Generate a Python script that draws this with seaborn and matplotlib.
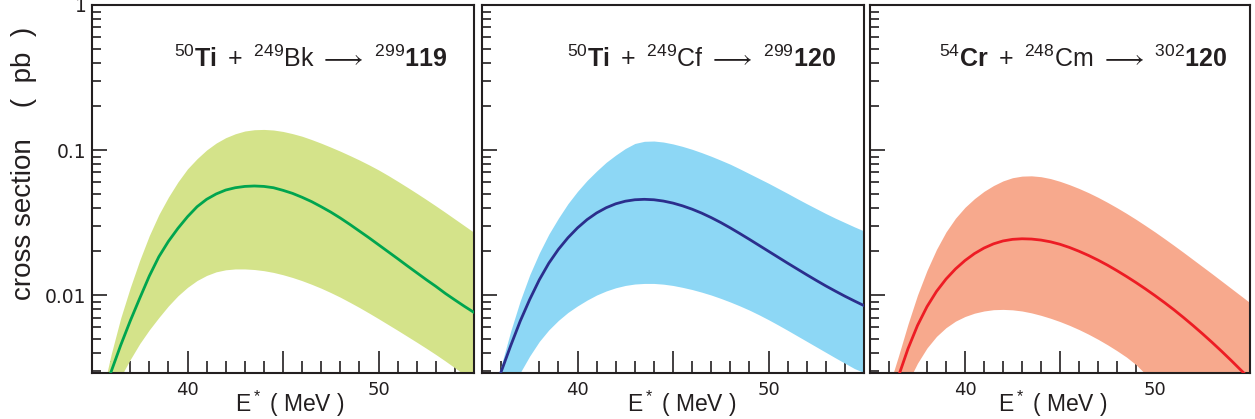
import numpy as np
import pandas as pd
import seaborn as sns
import matplotlib
matplotlib.use("Agg")
import matplotlib.pyplot as plt
from matplotlib.ticker import FixedLocator, FixedFormatter, LogLocator, NullFormatter

# ---------------- data ----------------
# excitation energy grid (MeV)
energy = [35.0, 35.5, 36.0, 36.5, 37.0, 37.5, 38.0, 38.5, 39.0, 39.5,
          40.0, 40.5, 41.0, 41.5, 42.0, 42.5, 43.0, 43.5, 44.0, 44.5,
          45.0, 45.5, 46.0, 46.5, 47.0, 47.5, 48.0, 48.5, 49.0, 49.5,
          50.0, 50.5, 51.0, 51.5, 52.0, 52.5, 53.0, 53.5, 54.0, 54.5, 55.0]

# cross sections, given as log10(sigma / pb)
# 50Ti + 249Bk -> 299 119
bk_mid_log10 = [-2.85, -2.68, -2.529, -2.347, -2.179, -2.022, -1.869, -1.736, -1.630, -1.540,
                -1.460, -1.391, -1.340, -1.303, -1.276, -1.260, -1.251, -1.248, -1.251, -1.260,
                -1.278, -1.299, -1.326, -1.356, -1.391, -1.428, -1.469, -1.513, -1.559, -1.605,
                -1.653, -1.701, -1.749, -1.798, -1.846, -1.894, -1.940, -1.989, -2.034, -2.078,
                -2.120]
bk_hi_log10 = [-3.0, -2.70, -2.41, -2.16, -1.95, -1.76, -1.59, -1.445, -1.325, -1.22,
               -1.13, -1.06, -1.00, -0.952, -0.915, -0.888, -0.869, -0.860, -0.858, -0.862,
               -0.872, -0.887, -0.905, -0.928, -0.953, -0.980, -1.008, -1.038, -1.069, -1.102,
               -1.137, -1.175, -1.215, -1.256, -1.298, -1.341, -1.385, -1.430, -1.476, -1.522,
               -1.568]
bk_lo_log10 = [-3.0, -2.85, -2.70, -2.565, -2.445, -2.335, -2.24, -2.155, -2.075, -2.005,
               -1.947, -1.900, -1.865, -1.840, -1.826, -1.820, -1.820, -1.824, -1.832, -1.844,
               -1.860, -1.879, -1.901, -1.926, -1.953, -1.983, -2.015, -2.050, -2.086, -2.124,
               -2.163, -2.203, -2.243, -2.284, -2.325, -2.367, -2.410, -2.455, -2.502, -2.550,
               -2.60]

# 50Ti + 249Cf -> 299 120
cf_mid_log10 = [-2.92, -2.72, -2.53, -2.35, -2.18, -2.03, -1.895, -1.78, -1.685, -1.605,
                -1.537, -1.480, -1.434, -1.398, -1.371, -1.353, -1.343, -1.340, -1.343, -1.352,
                -1.366, -1.385, -1.408, -1.435, -1.466, -1.500, -1.537, -1.576, -1.616, -1.657,
                -1.698, -1.739, -1.780, -1.820, -1.860, -1.899, -1.937, -1.973, -2.008, -2.041,
                -2.073]
cf_hi_log10 = [-3.0, -2.75, -2.49, -2.25, -2.04, -1.86, -1.71, -1.58, -1.47, -1.37,
               -1.285, -1.21, -1.145, -1.085, -1.035, -0.99, -0.955, -0.940, -0.938, -0.945,
               -0.958, -0.975, -0.995, -1.018, -1.043, -1.070, -1.098, -1.130, -1.163, -1.196,
               -1.229, -1.264, -1.299, -1.335, -1.370, -1.404, -1.438, -1.470, -1.500, -1.530,
               -1.558]
cf_lo_log10 = [-3.1, -2.95, -2.80, -2.67, -2.535, -2.42, -2.32, -2.24, -2.175, -2.12,
               -2.075, -2.035, -2.000, -1.972, -1.950, -1.934, -1.924, -1.920, -1.920, -1.925,
               -1.934, -1.947, -1.962, -1.980, -2.000, -2.023, -2.048, -2.075, -2.104, -2.136,
               -2.170, -2.206, -2.243, -2.281, -2.319, -2.357, -2.395, -2.433, -2.470, -2.507,
               -2.535]

# 54Cr + 248Cm -> 302 120
cm_mid_log10 = [-3.2, -2.98, -2.77, -2.56, -2.37, -2.21, -2.08, -1.975, -1.89, -1.82,
                -1.762, -1.714, -1.676, -1.647, -1.627, -1.616, -1.612, -1.614, -1.621, -1.633,
                -1.650, -1.672, -1.698, -1.727, -1.759, -1.794, -1.832, -1.872, -1.914, -1.958,
                -2.004, -2.052, -2.102, -2.155, -2.210, -2.267, -2.326, -2.387, -2.450, -2.515,
                -2.58]
cm_hi_log10 = [-3.1, -2.85, -2.63, -2.42, -2.20, -2.00, -1.83, -1.685, -1.565, -1.47,
               -1.395, -1.335, -1.285, -1.245, -1.213, -1.191, -1.180, -1.178, -1.184, -1.197,
               -1.216, -1.239, -1.265, -1.294, -1.326, -1.361, -1.398, -1.437, -1.478, -1.521,
               -1.565, -1.611, -1.658, -1.706, -1.755, -1.804, -1.853, -1.903, -1.953, -2.003,
               -2.053]
cm_lo_log10 = [-3.3, -3.1, -2.95, -2.77, -2.60, -2.47, -2.365, -2.285, -2.225, -2.180,
               -2.148, -2.125, -2.110, -2.101, -2.099, -2.102, -2.110, -2.123, -2.140, -2.160,
               -2.183, -2.209, -2.238, -2.270, -2.305, -2.343, -2.384, -2.428, -2.480, -2.545,
               -2.61, -2.67, -2.73, -2.79, -2.85, -2.91, -2.97, -3.03, -3.09, -3.15,
               -3.2]

titles = [r"$^{50}\mathbf{Ti}\ +\ ^{249}\mathrm{Bk}\ \longrightarrow\ ^{299}\mathbf{119}$",
          r"$^{50}\mathbf{Ti}\ +\ ^{249}\mathrm{Cf}\ \longrightarrow\ ^{299}\mathbf{120}$",
          r"$^{54}\mathbf{Cr}\ +\ ^{248}\mathrm{Cm}\ \longrightarrow\ ^{302}\mathbf{120}$"]
y_tick_values = [0.01, 0.1, 1]
y_tick_labels = ["0.01", "0.1", "1"]
x_tick_values = [40, 45, 50]
x_tick_labels = ["40", "", "50"]

# ---------------- styling ----------------
sns.set_theme(style="ticks")
plt.rcParams["font.family"] = ["Liberation Sans", "DejaVu Sans"]
plt.rcParams["mathtext.fontset"] = "custom"
plt.rcParams["mathtext.rm"] = "Liberation Sans"
plt.rcParams["mathtext.bf"] = "Liberation Sans:bold"
plt.rcParams["mathtext.it"] = "Liberation Sans:italic"
plt.rcParams["mathtext.fallback"] = "stixsans"

ink = "#231f20"
band_colors = ["#d4e38a", "#8dd7f5", "#f7a98d"]
line_colors = ["#00a54f", "#2b2e8c", "#ed1c24"]
mids = [bk_mid_log10, cf_mid_log10, cm_mid_log10]
his = [bk_hi_log10, cf_hi_log10, cm_hi_log10]
los = [bk_lo_log10, cf_lo_log10, cm_lo_log10]

W, H = 1255, 419
fig = plt.figure(figsize=(W / 100, H / 100), dpi=100)
lefts = [92, 482, 870]
rights = [474, 864, 1250]
top_px, bot_px = 5, 373
title_x = [0.93, 0.927, 0.94]
xlabel_x = [0.518, 0.523, 0.48]

for i in range(3):
    ax = fig.add_axes([lefts[i] / W, 1 - bot_px / H,
                       (rights[i] - lefts[i]) / W, (bot_px - top_px) / H])
    lo = np.power(10.0, los[i])
    hi = np.power(10.0, his[i])
    df = pd.DataFrame({"E": energy, "sigma": np.power(10.0, mids[i])})
    ax.fill_between(energy, lo, hi, color=band_colors[i], lw=0, zorder=1)
    sns.lineplot(data=df, x="E", y="sigma", ax=ax, color=line_colors[i],
                 lw=2.0, zorder=3)
    ax.set_yscale("log")
    ax.set_xlim(35, 55)
    ax.set_ylim(0.0029, 1.0)
    ax.set_xlabel("")
    ax.set_ylabel("")

    ax.yaxis.set_major_locator(FixedLocator(y_tick_values))
    ax.yaxis.set_minor_locator(LogLocator(base=10, subs=np.arange(2, 10)))
    ax.yaxis.set_minor_formatter(NullFormatter())
    if i == 0:
        ax.yaxis.set_major_formatter(FixedFormatter(y_tick_labels))
    else:
        ax.yaxis.set_major_formatter(NullFormatter())

    ax.xaxis.set_major_locator(FixedLocator(x_tick_values))
    ax.xaxis.set_major_formatter(FixedFormatter(x_tick_labels))
    ax.xaxis.set_minor_locator(FixedLocator(np.arange(36, 55, 1)))

    ax.tick_params(axis="x", which="major", direction="in", length=15.5, width=1.2,
                   color=ink, pad=5.5, labelsize=13, labelcolor=ink,
                   top=False, labelfontfamily="DejaVu Sans")
    ax.tick_params(axis="x", which="minor", direction="in", length=8.5, width=1.2,
                   color=ink, top=False)
    ax.tick_params(axis="y", which="major", direction="in", length=11, width=1.2,
                   color=ink, pad=4, labelsize=13.5, labelcolor=ink, right=False,
                   labelfontfamily="DejaVu Sans")
    ax.tick_params(axis="y", which="minor", direction="in", length=6.5, width=1.2,
                   color=ink, right=False)
    for sp in ax.spines.values():
        sp.set_visible(True)
        sp.set_color(ink)
        sp.set_linewidth(1.5)
    ax.set_facecolor("white")

    ax.text(title_x[i], 0.8315, titles[i], transform=ax.transAxes, ha="right",
            va="baseline", fontsize=18, color=ink)
    ax.text(xlabel_x[i], -0.084, r"E$^*$ ( MeV )", transform=ax.transAxes,
            ha="center", va="center", fontsize=16.5, color=ink)

fig.text(24 / W, 1 - 300 / H, "cross section    (  pb  )", rotation=90,
         ha="center", va="bottom", fontsize=20, color=ink)

fig.savefig("out.png", dpi=100, facecolor="white")
